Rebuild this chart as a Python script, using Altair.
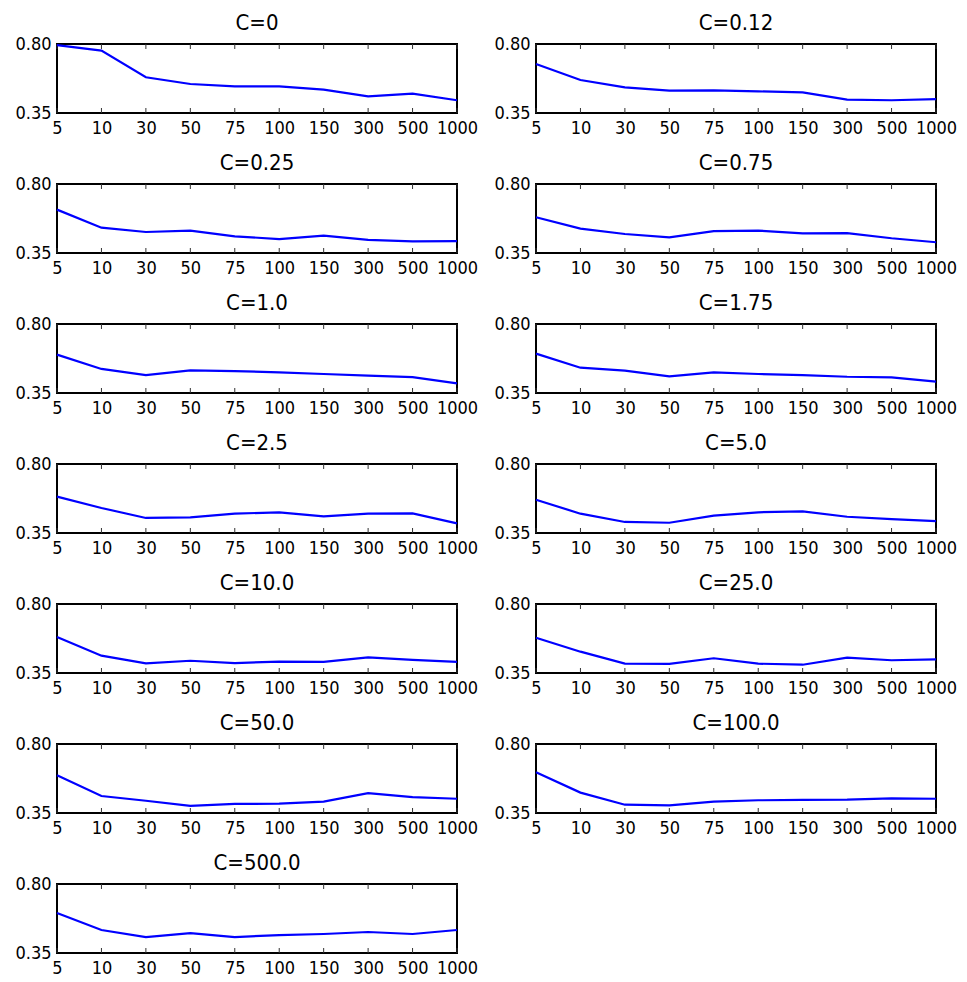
import altair as alt
import pandas as pd

sizes = ["5", "10", "30", "50", "75", "100", "150", "300", "500", "1000"]

c_titles = ["C=0", "C=0.12", "C=0.25", "C=0.75", "C=1.0", "C=1.75", "C=2.5",
            "C=5.0", "C=10.0", "C=25.0", "C=50.0", "C=100.0", "C=500.0"]

acc_c0 = [0.793, 0.757, 0.583, 0.539, 0.524, 0.524, 0.502, 0.459, 0.476, 0.433]
acc_c012 = [0.670, 0.565, 0.517, 0.496, 0.498, 0.491, 0.485, 0.437, 0.433, 0.441]
acc_c025 = [0.633, 0.515, 0.487, 0.496, 0.459, 0.441, 0.463, 0.435, 0.426, 0.428]
acc_c075 = [0.583, 0.509, 0.474, 0.452, 0.493, 0.496, 0.478, 0.480, 0.446, 0.420]
acc_c1 = [0.600, 0.507, 0.467, 0.498, 0.493, 0.485, 0.474, 0.463, 0.454, 0.413]
acc_c175 = [0.607, 0.515, 0.496, 0.459, 0.485, 0.474, 0.467, 0.456, 0.452, 0.424]
acc_c25 = [0.587, 0.513, 0.448, 0.452, 0.476, 0.485, 0.459, 0.476, 0.478, 0.413]
acc_c5 = [0.567, 0.476, 0.422, 0.417, 0.463, 0.485, 0.491, 0.456, 0.441, 0.428]
acc_c10 = [0.585, 0.463, 0.413, 0.430, 0.415, 0.424, 0.422, 0.452, 0.435, 0.422]
acc_c25b = [0.580, 0.489, 0.411, 0.409, 0.446, 0.411, 0.404, 0.450, 0.433, 0.439]
acc_c50 = [0.596, 0.461, 0.430, 0.396, 0.409, 0.411, 0.424, 0.480, 0.454, 0.443]
acc_c100 = [0.615, 0.483, 0.404, 0.400, 0.424, 0.433, 0.435, 0.437, 0.446, 0.443]
acc_c500 = [0.611, 0.500, 0.454, 0.480, 0.454, 0.467, 0.474, 0.487, 0.474, 0.500]

series = [acc_c0, acc_c012, acc_c025, acc_c075, acc_c1, acc_c175, acc_c25,
          acc_c5, acc_c10, acc_c25b, acc_c50, acc_c100, acc_c500]

PW, PH = 400, 69
FONT = "DejaVu Sans Condensed"


def xenc():
    return alt.X(
        "size:O",
        sort=sizes,
        scale=alt.Scale(type="point", padding=0),
        axis=alt.Axis(title=None, labelAngle=0, ticks=False, domain=False,
                      grid=False, labelPadding=6, labelFontSize=18,
                      labelFont=FONT, labelColor="black", labelOverlap=False,
                      labelAlign="center"),
    )


def panel(title, vals):
    df = pd.DataFrame({"size": sizes, "acc": vals})
    yenc = alt.Y(
        "acc:Q",
        scale=alt.Scale(domain=[0.35, 0.80], nice=False, zero=False),
        axis=alt.Axis(title=None, values=[0.35, 0.80], format=".2f",
                      ticks=False, domain=False, grid=False, labelPadding=6,
                      labelFontSize=18, labelFont=FONT, labelColor="black",
                      labelOverlap=False),
    )
    top_ticks = alt.Chart(df).mark_rule(color="#333333", strokeWidth=1).encode(
        x=xenc(), y=alt.value(0), y2=alt.value(5))
    bot_ticks = alt.Chart(df).mark_rule(color="#333333", strokeWidth=1).encode(
        x=xenc(), y=alt.value(PH - 5), y2=alt.value(PH))
    line = alt.Chart(df).mark_line(color="#0000ff", strokeWidth=2.2).encode(
        x=xenc(), y=yenc)
    return alt.layer(top_ticks, bot_ticks, line).properties(
        width=PW, height=PH,
        title=alt.TitleParams(title, fontSize=22, font=FONT, fontWeight="normal",
                              color="black", offset=0, anchor="middle"),
    )


charts = [panel(t, v) for t, v in zip(c_titles, series)]

chart = alt.concat(*charts, columns=2,
                   spacing=alt.RowColnumber(row=13, column=13)).properties(
    padding={"left": 13, "top": 11, "right": 5, "bottom": 5},
    background="white",
).configure_view(
    stroke="black", strokeWidth=2
)

chart.save("out.html", embed_options={"renderer": "svg", "actions": False})
